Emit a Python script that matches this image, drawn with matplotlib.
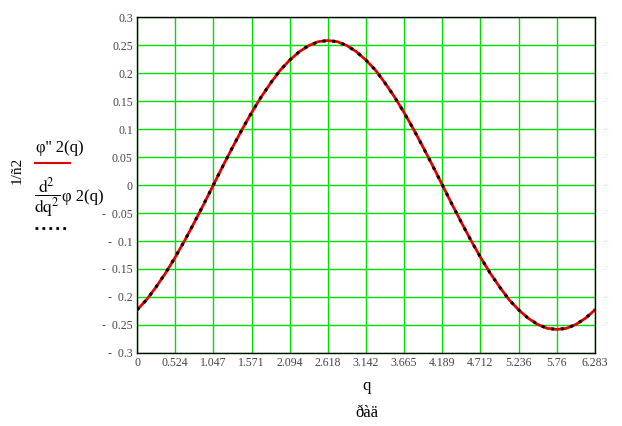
import numpy as np
from matplotlib import pyplot as plt

plt.rcParams['font.family'] = ['Liberation Serif', 'DejaVu Serif']
plt.rcParams['mathtext.fontset'] = 'stix'

# q values (rad) and curve values
q = [i * 6.283 / 48 for i in range(49)]
phi2_dd = [-0.223, -0.205, -0.182, -0.157, -0.129, -0.099, -0.067, -0.034,
           0.0, 0.034, 0.067, 0.099, 0.129, 0.157, 0.182, 0.205,
           0.223, 0.238, 0.249, 0.256, 0.258, 0.256, 0.249, 0.238,
           0.223, 0.205, 0.182, 0.157, 0.129, 0.099, 0.067, 0.034,
           0.0, -0.034, -0.067, -0.099, -0.129, -0.157, -0.182, -0.205,
           -0.223, -0.238, -0.249, -0.256, -0.258, -0.256, -0.249, -0.238, -0.223]
d2_phi2 = list(phi2_dd)

xticks = [0, 0.524, 1.047, 1.571, 2.094, 2.618, 3.142, 3.665, 4.189, 4.712, 5.236, 5.76, 6.283]
xtick_labels = ['0', '0.524', '1.047', '1.571', '2.094', '2.618', '3.142', '3.665',
                '4.189', '4.712', '5.236', '5.76', '6.283']
yticks = [-0.3, -0.25, -0.2, -0.15, -0.1, -0.05, 0, 0.05, 0.1, 0.15, 0.2, 0.25, 0.3]
ytick_labels = ['-  0.3', '-  0.25', '-  0.2', '-  0.15', '-  0.1', '-  0.05', '0',
                '0.05', '0.1', '0.15', '0.2', '0.25', '0.3']

fig = plt.figure(figsize=(6.22, 4.26), dpi=100)
ax = fig.add_axes([0.2203, 0.1714, 0.7363, 0.7886])

ax.plot(q, phi2_dd, color='#e00000', lw=2.0, zorder=3)
ax.plot(q, d2_phi2, color='black', lw=2.2, linestyle=(0, (1, 2.2)), zorder=4)

ax.set_xlim(0, 6.283)
ax.set_ylim(-0.3, 0.3)
ax.set_xticks(xticks)
ax.set_xticklabels(xtick_labels)
ax.set_yticks(yticks)
ax.set_yticklabels(ytick_labels)
ax.tick_params(length=0, labelsize=8.5, labelcolor='#444444', pad=3)
ax.grid(True, color='#00dd00', lw=1.0)
for s in ax.spines.values():
    s.set_color('black')
    s.set_linewidth(1.0)

# axis labels in the style of the original
fig.text(0.027, 0.60, '1/ñ2', rotation=90, fontsize=11, ha='center', va='center')
fig.text(0.058, 0.652, "φ'' 2(q)", fontsize=12, ha='left', va='center')
fig.add_artist(plt.Line2D([0.056, 0.113], [0.617, 0.617], color='#e00000', lw=1.5))
fig.text(0.054, 0.535, r'$\dfrac{\mathrm{d}^2}{\mathrm{dq}^2}$', fontsize=12.5,
         ha='left', va='center')
fig.text(0.099, 0.537, 'φ 2(q)', fontsize=12, ha='left', va='center')
fig.add_artist(plt.Line2D([0.056, 0.106], [0.464, 0.464], color='black', lw=2,
                          linestyle=(0, (1, 1.5))))
fig.text(0.590, 0.094, 'q', fontsize=12, ha='center', va='center')
fig.text(0.590, 0.031, 'ðàä', fontsize=12, ha='center', va='center')

plt.savefig('out.png', dpi=100)
